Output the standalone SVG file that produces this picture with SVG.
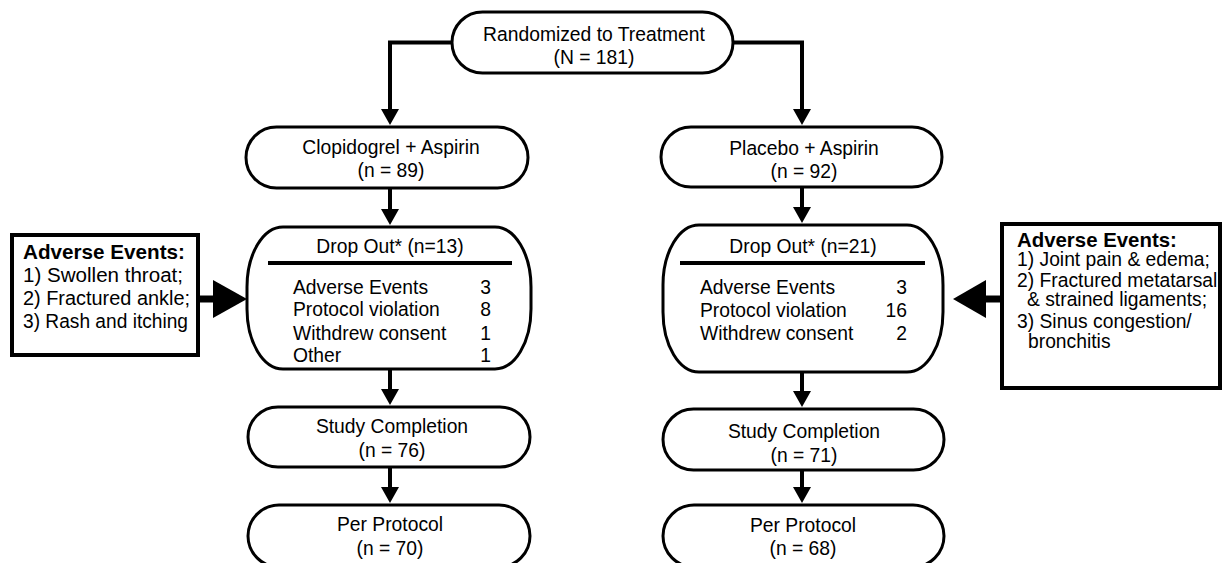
<svg xmlns="http://www.w3.org/2000/svg" width="1223" height="563" viewBox="0 0 1223 563">
<style>
text{font-family:"Liberation Sans",Arial,Helvetica,sans-serif;fill:#000}
.t{font-size:19.3px;text-anchor:middle}
.l{font-size:19.3px}
.r{font-size:19.3px;text-anchor:end}
.ae{font-size:20px}
.h{font-size:20.4px;font-weight:bold}
.node{fill:#fff;stroke:#000;stroke-width:3}
.box{fill:#fff;stroke:#000;stroke-width:4}
.c{fill:none;stroke:#000;stroke-width:4}
.big{fill:none;stroke:#000;stroke-width:7}
.ah{fill:#000;stroke:none}
</style>
<defs>
<marker id="arr" viewBox="0 0 16 18" refX="1" refY="9" markerWidth="16" markerHeight="18" orient="auto" markerUnits="userSpaceOnUse">
<path d="M0,0 L16,9 L0,18 Z" fill="#000"/>
</marker>
</defs>
<rect width="1223" height="563" fill="#fff"/>
<g id="connectors">
<path class="c" d="M452,42.5 H390 V110" marker-end="url(#arr)"/>
<path class="c" d="M733,42.5 H802 V110" marker-end="url(#arr)"/>
<path class="c" d="M390,188 V210" marker-end="url(#arr)"/>
<path class="c" d="M802,187 V208" marker-end="url(#arr)"/>
<path class="c" d="M390,369 V390" marker-end="url(#arr)"/>
<path class="c" d="M802,372 V392" marker-end="url(#arr)"/>
<path class="c" d="M390,467 V488" marker-end="url(#arr)"/>
<path class="c" d="M802,470 V488" marker-end="url(#arr)"/>
<path class="big" d="M198,299 H215"/>
<path class="ah" d="M213,280 L247,299 L213,318 Z"/>
<path class="big" d="M1002,299 H984"/>
<path class="ah" d="M986,280 L953,299 L986,318 Z"/>
</g>
<g id="randomized">
<rect class="node" x="452" y="12" width="281" height="61" rx="30.5" ry="30.5"/>
<text class="t" x="594" y="41">Randomized to Treatment</text>
<text class="t" x="594" y="63.5">(N = 181)</text>
</g>
<g id="clopidogrel">
<rect class="node" x="246" y="127" width="282" height="61" rx="30.5" ry="30.5"/>
<text class="t" x="391" y="154">Clopidogrel + Aspirin</text>
<text class="t" x="391" y="177">(n = 89)</text>
</g>
<g id="placebo">
<rect class="node" x="661" y="127" width="281" height="60" rx="30" ry="30"/>
<text class="t" x="804" y="155">Placebo + Aspirin</text>
<text class="t" x="804" y="178">(n = 92)</text>
</g>
<g id="dropout-left">
<rect class="node" x="247" y="227" width="284" height="142" rx="36" ry="60"/>
<text class="t" x="390" y="253">Drop Out* (n=13)</text>
<line x1="268" y1="263" x2="512" y2="263" stroke="#000" stroke-width="4"/>
<text class="l" x="293" y="294">Adverse Events</text><text class="r" x="491" y="294">3</text>
<text class="l" x="293" y="316">Protocol violation</text><text class="r" x="491" y="316">8</text>
<text class="l" x="293" y="340">Withdrew consent</text><text class="r" x="491" y="340">1</text>
<text class="l" x="293" y="362">Other</text><text class="r" x="491" y="362">1</text>
</g>
<g id="dropout-right">
<rect class="node" x="663" y="225" width="280" height="147" rx="36" ry="60"/>
<text class="t" x="803" y="253">Drop Out* (n=21)</text>
<line x1="680" y1="263" x2="925" y2="263" stroke="#000" stroke-width="4"/>
<text class="l" x="700" y="294">Adverse Events</text><text class="r" x="907" y="294">3</text>
<text class="l" x="700" y="317">Protocol violation</text><text class="r" x="907" y="317">16</text>
<text class="l" x="700" y="340">Withdrew consent</text><text class="r" x="907" y="340">2</text>
</g>
<g id="ae-left">
<rect class="box" x="12" y="235" width="186" height="120"/>
<text class="h" x="23" y="259" textLength="162" lengthAdjust="spacingAndGlyphs">Adverse Events:</text>
<text class="ae" x="23" y="282" textLength="160" lengthAdjust="spacingAndGlyphs">1) Swollen throat;</text>
<text class="ae" x="23" y="305" textLength="167" lengthAdjust="spacingAndGlyphs">2) Fractured ankle;</text>
<text class="ae" x="23" y="328" textLength="165" lengthAdjust="spacingAndGlyphs">3) Rash and itching</text>
</g>
<g id="ae-right">
<rect class="box" x="1002" y="224" width="218" height="164"/>
<text class="h" x="1017" y="247">Adverse Events:</text>
<text class="l" x="1017" y="266">1) Joint pain &amp; edema;</text>
<text class="l" x="1017" y="287">2) Fractured metatarsal</text>
<text class="l" x="1027" y="306">&amp; strained ligaments;</text>
<text class="l" x="1017" y="328">3) Sinus congestion/</text>
<text class="l" x="1028" y="348">bronchitis</text>
</g>
<g id="completion-left">
<rect class="node" x="248" y="407" width="282" height="60" rx="30" ry="30"/>
<text class="t" x="392" y="433">Study Completion</text>
<text class="t" x="392" y="457">(n = 76)</text>
</g>
<g id="completion-right">
<rect class="node" x="663" y="409" width="281" height="61" rx="30.5" ry="30.5"/>
<text class="t" x="804" y="438">Study Completion</text>
<text class="t" x="804" y="462">(n = 71)</text>
</g>
<g id="perprotocol-left">
<rect class="node" x="248" y="505" width="282" height="62" rx="31" ry="31"/>
<text class="t" x="390" y="531">Per Protocol</text>
<text class="t" x="390" y="555">(n = 70)</text>
</g>
<g id="perprotocol-right">
<rect class="node" x="663" y="505" width="281" height="62" rx="31" ry="31"/>
<text class="t" x="803" y="532">Per Protocol</text>
<text class="t" x="803" y="555">(n = 68)</text>
</g>
</svg>
